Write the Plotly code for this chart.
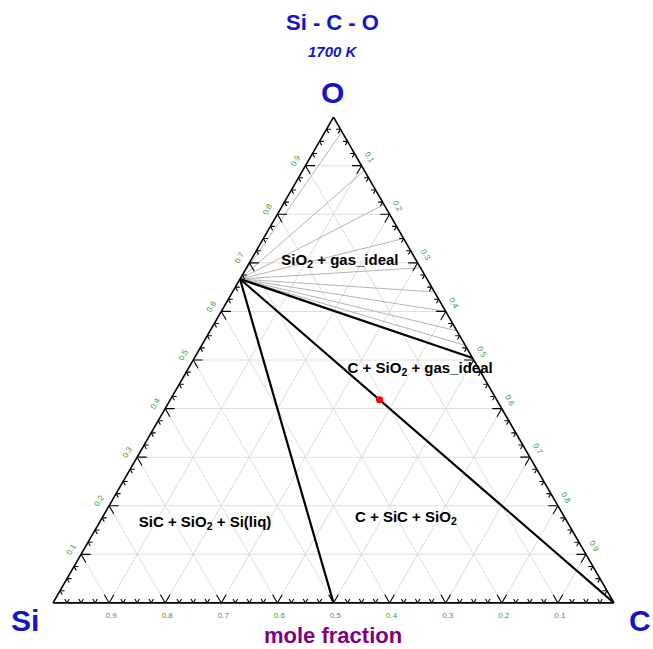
import plotly.graph_objects as go

# Si-C-O isothermal section at 1700 K; compositions are mole fractions (O, Si, C)
SIO2 = (2 / 3, 1 / 3, 0.0)
SIC = (0.0, 0.5, 0.5)
CARBON = (0.0, 0.0, 1.0)
GAS_END = (0.504, 0.0, 0.496)          # gas in equilibrium with C + SiO2
TIE_GAS_C = [0.03, 0.11, 0.18, 0.25, 0.31, 0.36, 0.40, 0.44, 0.47]  # gas C fraction of SiO2 + gas tie lines
OVERALL = (0.418, 0.209, 0.373)        # overall composition marker

TICK_VALUES = [0.1, 0.2, 0.3, 0.4, 0.5, 0.6, 0.7, 0.8, 0.9]
TICK_TEXT = ["0.1", "0.2", "0.3", "0.4", "0.5", "0.6", "0.7", "0.8", "0.9"]

REGION_LABELS = [
    ("SiO<sub>2</sub> + gas_ideal", (0.703, 0.137, 0.160)),
    ("C + SiO<sub>2</sub> + gas_ideal", (0.481, 0.105, 0.414)),
    ("SiC + SiO<sub>2</sub> + Si(liq)", (0.164, 0.647, 0.189)),
    ("C + SiC + SiO<sub>2</sub>", (0.174, 0.284, 0.542)),
]

FONT = "Liberation Sans, Arial, sans-serif"
BLUE = "#1414c8"

fig = go.Figure()


def add_segments(pairs, color, width):
    a, b, c = [], [], []
    for p, q in pairs:
        for pt in (p, q):
            a.append(pt[0]); b.append(pt[1]); c.append(pt[2])
        a.append(None); b.append(None); c.append(None)
    fig.add_trace(go.Scatterternary(a=a, b=b, c=c, mode="lines",
                                    line=dict(color=color, width=width),
                                    hoverinfo="skip", showlegend=False))


# SiO2 + gas tie lines
add_segments([(SIO2, (1 - x, 0.0, x)) for x in TIE_GAS_C], "#b4b4b4", 1)

# three-phase triangle boundaries
add_segments([(SIO2, SIC), (SIO2, CARBON), (SIO2, GAS_END)], "black", 2.2)

# edge ticks drawn as small chevrons along the two grid directions
ta, tb, tc = [], [], []


def chevron(p1, v, p2):
    for pt in (p1, v, p2):
        ta.append(pt[0]); tb.append(pt[1]); tc.append(pt[2])
    ta.append(None); tb.append(None); tc.append(None)


for k in range(1, 40):
    f = k * 0.025
    L = 0.017 if k % 4 == 0 else 0.008
    # bottom edge (O = 0), labelled by Si
    chevron((L, f - L, 1 - f), (0.0, f, 1 - f), (L, f, 1 - f - L))
    # left edge (C = 0), labelled by O
    chevron((f, 1 - f - L, L), (f, 1 - f, 0.0), (f - L, 1 - f, L))
    # right edge (Si = 0), labelled by C
    chevron((1 - f - L, L, f), (1 - f, 0.0, f), (1 - f, L, f - L))

fig.add_trace(go.Scatterternary(a=ta, b=tb, c=tc, mode="lines",
                                line=dict(color="black", width=1.1),
                                hoverinfo="skip", showlegend=False))

# overall composition point
fig.add_trace(go.Scatterternary(a=[OVERALL[0]], b=[OVERALL[1]], c=[OVERALL[2]],
                                mode="markers",
                                marker=dict(color="red", size=7, symbol="circle"),
                                hoverinfo="skip", showlegend=False))

# phase-region labels
fig.add_trace(go.Scatterternary(
    a=[p[1][0] for p in REGION_LABELS],
    b=[p[1][1] for p in REGION_LABELS],
    c=[p[1][2] for p in REGION_LABELS],
    mode="text",
    text=["<b>" + p[0] + "</b>" for p in REGION_LABELS],
    textposition="middle center",
    textfont=dict(family=FONT, size=15, color="black"),
    cliponaxis=False,
    hoverinfo="skip", showlegend=False))


def axis(angle):
    return dict(
        min=0, tickmode="array", tickvals=TICK_VALUES, ticktext=TICK_TEXT,
        tickangle=angle, ticks="outside", ticklen=4, tickcolor="rgba(0,0,0,0)",
        tickfont=dict(family=FONT, size=8, color="#3a9a3a"),
        showgrid=True, gridcolor="#dedede", gridwidth=1,
        showline=True, linecolor="black", linewidth=1.6,
        title=dict(text=""),
    )


def label(text, x, y, size, color):
    return dict(text=text, x=x, y=y, xref="paper", yref="paper",
                xanchor="center", yanchor="middle", showarrow=False,
                font=dict(family=FONT, size=size, color=color))


fig.update_layout(
    width=653, height=649,
    margin=dict(l=53, r=39, t=117, b=46),
    paper_bgcolor="white",
    showlegend=False,
    ternary=dict(sum=1, bgcolor="white",
                 aaxis=axis(-60), baxis=axis(0), caxis=axis(60)),
    annotations=[
        label("<b>Si - C - O</b>", 0.499, 1.195, 22, BLUE),
        label("<b><i>1700 K</i></b>", 0.499, 1.134, 15, BLUE),
        label("<b>O</b>", 0.499, 1.051, 30, BLUE),
        label("<b>Si</b>", -0.05, -0.037, 30, BLUE),
        label("<b>C</b>", 1.046, -0.037, 30, BLUE),
        label("<b>mole fraction</b>", 0.499, -0.066, 22, "#800080"),
    ],
)

fig.write_html("out.html")
